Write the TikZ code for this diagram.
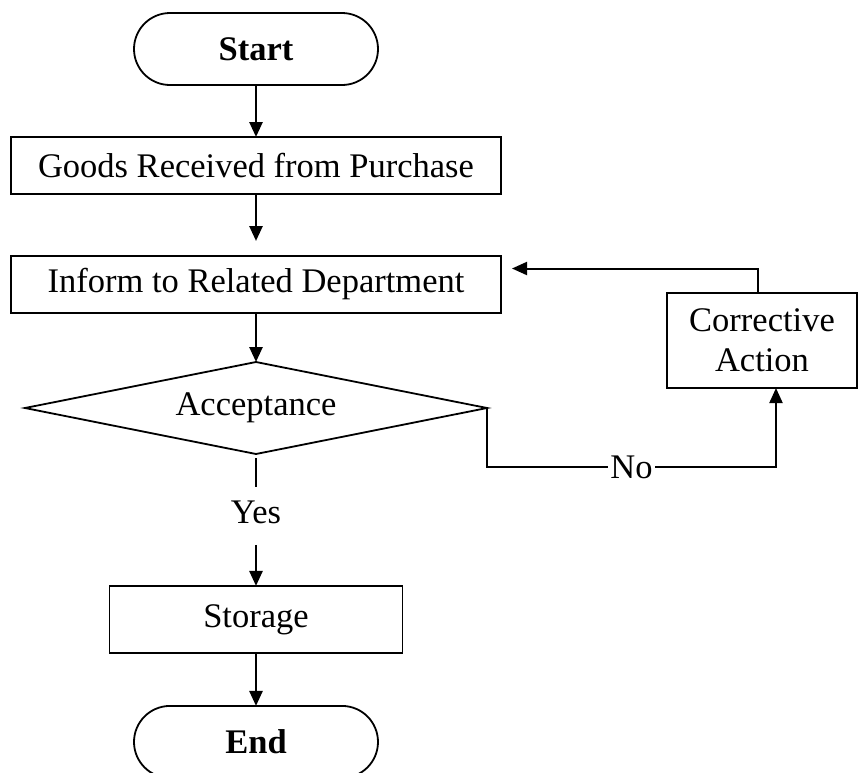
\documentclass[tikz,border=0pt]{standalone}
\usepackage{fontspec}
\setmainfont{Liberation Serif}
\usetikzlibrary{shapes.geometric, arrows.meta, positioning}

\begin{document}
\begin{tikzpicture}[
        x=0.5pt, y=-0.5pt,
        node distance=26pt,
        every node/.style={font=\fontsize{17.25pt}{20pt}\selectfont, outer sep=0pt},
        terminal/.style={rectangle, draw, line width=0.9pt, rounded corners=18pt, minimum width=122pt, minimum height=36pt, font=\fontsize{17.25pt}{20pt}\selectfont\bfseries},
        process/.style={rectangle, draw, line width=0.9pt, minimum width=245pt, minimum height=28.5pt, align=center},
        decision/.style={diamond, draw, line width=0.9pt, aspect=5, inner sep=0pt, minimum width=231pt, minimum height=46pt},
        flow/.style={line width=1.3pt, -{Triangle[length=7.5pt, width=6.5pt]}}
    ]
        \useasboundingbox (0,0) rectangle (859,773);

        \node[terminal] (start) at (256,49) {Start};
        \node[process, below=26pt of start] (goods) {Goods Received from Purchase};
        \node[process, below=31pt of goods] (inform) {Inform to Related Department};
        \node[decision, below=24.5pt of inform] (accept) {Acceptance};
        \node[inner sep=0pt, below=23.5pt of accept] (yes) {Yes};
        \node[process, minimum width=146.5pt, minimum height=33.5pt, below=31pt of yes] (storage) {Storage};
        \node[terminal, below=26.5pt of storage] (end) {End};
        \node[process, minimum width=95pt, minimum height=47.5pt] (corrective) at (762,340.5) {Corrective\\Action};
        \coordinate (noturn) at (776,467);

        \draw[flow] (start) -- (goods);
        \draw[flow, shorten >=7.5pt] (goods) -- (inform);
        \draw[flow] (inform) -- (accept);
        \draw[line width=1pt, shorten <=2pt, shorten >=7pt] (accept) -- (yes);
        \draw[flow, shorten <=10.5pt] (yes) -- (storage);
        \draw[flow] (storage) -- (end);

        \draw[flow, line width=1pt] (accept.east) |- node[pos=0.75, fill=white, inner sep=1pt] {No} (noturn) -- (noturn |- corrective.south);
        \draw[flow, line width=1pt] ([xshift=-2pt]corrective.north) |- ([xshift=5.5pt, yshift=8pt]inform.east);
    \end{tikzpicture}
\end{document}
